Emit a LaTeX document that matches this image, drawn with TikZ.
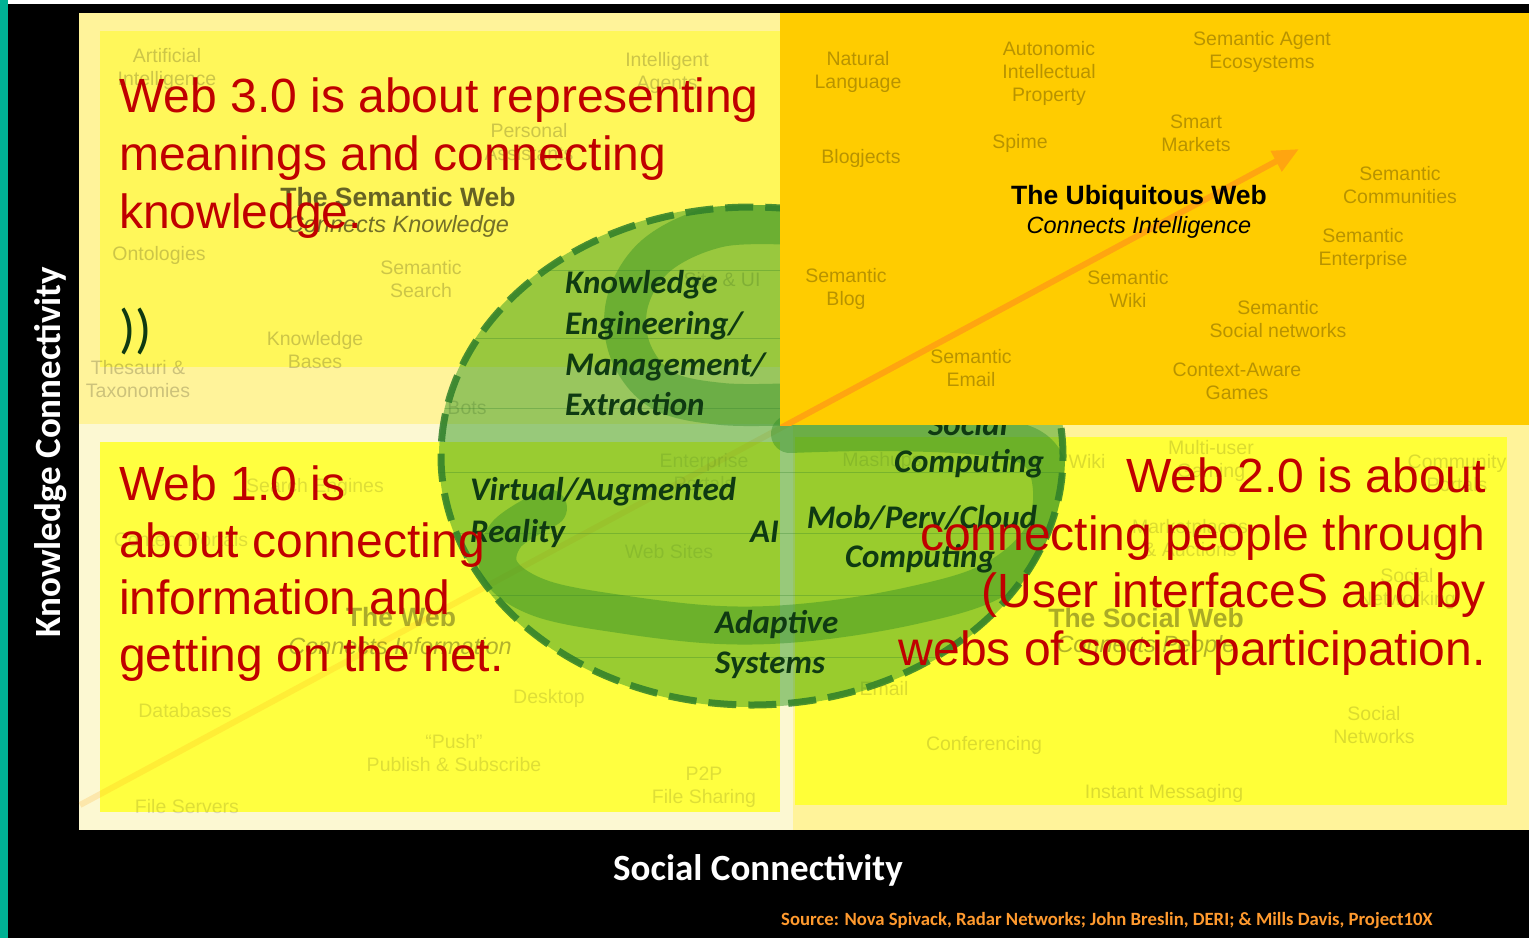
\documentclass[tikz,border=0pt]{standalone}
\usepackage{fontspec}
\setmainfont{Liberation Sans}
\newfontfamily\calibri{Carlito}
\usetikzlibrary{arrows.meta}

\definecolor{stripteal}{HTML}{00B294}
\definecolor{paleyellow}{HTML}{FFF39A}
\definecolor{semyellow}{HTML}{FFF75A}
\definecolor{creamband}{HTML}{FCF8D2}
\definecolor{infoyellow}{HTML}{FFFF40}
\definecolor{socyellow}{HTML}{FFFF38}
\definecolor{ubiqorange}{HTML}{FFCC00}
\definecolor{trendorange}{HTML}{FFA510}
\definecolor{claimred}{HTML}{C00000}
\definecolor{inkgreen}{HTML}{0F3A12}
\definecolor{discgreen}{HTML}{359B24}
\definecolor{swirlgreen}{HTML}{2A8A22}
\definecolor{dashgreen}{HTML}{2F7F2A}
\definecolor{sourceorange}{HTML}{FF9A2E}

\tikzset{
  tag/.style={font=\fontsize{19.5}{23}\selectfont, align=center, inner sep=0pt, text=black},
  qtl/.style={tag, text opacity=0.2},
  qll/.style={tag, text opacity=0.13},
  qlr/.style={tag, text opacity=0.14},
  qur/.style={tag, text opacity=0.28},
  webtitle/.style={font=\bfseries\fontsize{26.5}{26.5}\selectfont},
  websub/.style={font=\itshape\fontsize{23.5}{23.5}\selectfont},
  idea/.style={font=\calibri\bfseries\itshape\fontsize{33}{33}\selectfont, text=inkgreen, inner sep=0pt},
  claim/.style={font=\fontsize{48}{58}\selectfont, text=claimred, inner sep=0pt},
  axis/.style={font=\calibri\bfseries\fontsize{37}{37}\selectfont, text=white, inner sep=0pt},
  trend/.style={draw=trendorange, line width=6pt, -{Triangle[length=26pt,width=22pt]}},
  swirl/.style={draw=swirlgreen, opacity=0.4, line cap=round, line join=round},
}

\begin{document}
\begin{tikzpicture}[x=1pt,y=-1pt]
\useasboundingbox (0,0) rectangle (1529,938);

% frame
\fill[white] (0,0) rectangle (1529,938);
\fill[black] (8,4) rectangle (1529,938);
\fill[stripteal] (0,0) rectangle (8,938);

% quadrant panels
\fill[paleyellow] (79,13) rectangle (780,424);
\fill[semyellow] (100,31) rectangle (780,367);
\fill[creamband] (79,424) rectangle (793,830);
\fill[infoyellow] (100,442) rectangle (780,812);
\fill[paleyellow] (793,424) rectangle (1529,830);
\fill[socyellow] (795,437) rectangle (1507,805);

% trend line (faint part under the panels' content)
\coordinate (trendtail) at (80,805);
\coordinate (trendtip) at (1299,149);
\draw[trend, opacity=0.2] (trendtail) -- (trendtip);

% semantic web quadrant labels
\node[qtl] (artint) at (167,69) {Artificial\\Intelligence};
\node[qtl] (intag) at (667,73) {Intelligent\\Agents};
\node[qtl] (persass) at (529,142) {Personal\\Assistants};
\node[qtl, webtitle, text opacity=0.6] (semwebt) at (398,197) {The Semantic Web};
\node[qtl, websub, text opacity=0.55] (semwebs) at (398,226) {Connects Knowledge};
\node[qtl] (onto) at (159,255) {Ontologies};
\node[qtl] (semsearch) at (421,279) {Semantic\\Search};
\node[qtl] (kbases) at (315,350) {Knowledge\\Bases};
\node[qtl] (thes) at (138,379) {Thesauri \&\\Taxonomies};
\node[qtl] (bots) at (467,408) {Bots};
\node[qtl] (siteui) at (722,280) {Site \& UI};

% web quadrant labels
\node[qll] (search) at (315,487) {Search Engines};
\node[qll] (portals) at (181,540) {Content Portals};
\node[qll, webtitle, text opacity=0.33] (webt) at (401,617) {The Web};
\node[qll, websub, text opacity=0.3] (webs) at (400,646) {Connects Information};
\node[qll] (dbases) at (185,711) {Databases};
\node[qll] (desktop) at (549,698) {Desktop};
\node[qll] (push) at (454,753) {“Push”\\Publish \& Subscribe};
\node[qll] (ptop) at (704,787) {P2P\\File Sharing};
\node[qll] (fservers) at (187,807) {File Servers};
\node[qll] (entport) at (704,472) {Enterprise\\Portals};
\node[qll] (websites) at (669,552) {Web Sites};

% social web quadrant labels
\node[qlr] (mashups) at (882,461) {Mashups};
\node[qlr] (wiki) at (1087,461) {Wiki};
\node[qlr] (mugaming) at (1211,461) {Multi-user\\Gaming};
\node[qlr] (community) at (1457,473) {Community\\Portals};
\node[qlr] (markets) at (1190,538) {Marketplaces\\\& Auctions};
\node[qlr] (socnetg) at (1407,589) {Social\\Networking};
\node[qlr, webtitle, text opacity=0.33] (socwebt) at (1146,618) {The Social Web};
\node[qlr, websub, text opacity=0.3] (socwebs) at (1146,646) {Connects People};
\node[qlr] (email) at (884,689) {Email};
\node[qlr] (conf) at (984,745) {Conferencing};
\node[qlr] (socnets) at (1374,725) {Social\\Networks};
\node[qlr] (instmsg) at (1164,793) {Instant Messaging};

% the green disc with its swirl
\coordinate (hub) at (752,456);
\begin{scope}
  \clip (hub) ellipse [x radius=313pt, y radius=251pt];
  \fill[discgreen, opacity=0.5] (430,190) rectangle (1080,720);
  \draw[swirl, line width=42pt] plot[smooth, tension=0.6] coordinates
    {(795,224) (720,226) (658,254) (628,300) (630,350) (662,390) (722,404) (795,404)};
  \draw[swirl, line width=38pt] plot[smooth, tension=0.6] coordinates
    {(548,508) (506,535) (500,570) (540,598) (620,614) (720,625) (810,622)
     (910,606) (990,582) (1040,540) (1052,490) (1035,450) (980,436) (880,432) (790,434)};
  \foreach \yy in {270,338,408,472,533,595,657}
    \draw[dashgreen, opacity=0.3, line width=0.8pt] (430,\yy) -- (1080,\yy);
\end{scope}
\draw[dashgreen, opacity=0.85, line width=7pt, dash pattern=on 28pt off 12pt]
  (hub) ellipse [x radius=311pt, y radius=249pt];

% disc topics
\node[idea, anchor=base west] (kea) at (565,293) {Knowledge};
\node[idea, anchor=base west] (keb) at (565,334) {Engineering/};
\node[idea, anchor=base west] (kec) at (565,375) {Management/};
\node[idea, anchor=base west] (ked) at (565,415) {Extraction};
\node[idea, anchor=base west] (vra) at (470,500) {Virtual/Augmented};
\node[idea, anchor=base west] (vrb) at (470,542) {Reality};
\node[idea, anchor=base west] (aitopic) at (750,542) {AI};
\node[idea, anchor=base] (sca) at (968,435) {Social};
\node[idea, anchor=base] (scb) at (969,472) {Computing};
\node[idea, anchor=base] (mpa) at (922,528) {Mob/Perv/Cloud};
\node[idea, anchor=base] (mpb) at (920,567) {Computing};
\node[idea, anchor=base west] (asa) at (715,633) {Adaptive};
\node[idea, anchor=base west] (asb) at (715,673) {Systems};

% ubiquitous web quadrant
\fill[ubiqorange] (780,13) rectangle (1529,425);
\begin{scope}
  \clip (780,13) rectangle (1529,425);
  \draw[trend] (trendtail) -- (trendtip);
\end{scope}

\node[qur] (natlang) at (858,72) {Natural\\Language};
\node[qur] (autoip) at (1049,73) {Autonomic\\Intellectual\\Property};
\node[qur] (agenteco) at (1262,52) {Semantic Agent\\Ecosystems};
\node[qur] (smartm) at (1196,133) {Smart\\Markets};
\node[qur] (spime) at (1020,143) {Spime};
\node[qur] (blogjects) at (861,158) {Blogjects};
\node[qur] (semcomm) at (1400,185) {Semantic\\Communities};
\node[tag, webtitle] (ubiqt) at (1139,198) {The Ubiquitous Web};
\node[tag, websub] (ubiqs) at (1139,227) {Connects Intelligence};
\node[qur] (sement) at (1363,249) {Semantic\\Enterprise};
\node[qur] (semblog) at (846,289) {Semantic\\Blog};
\node[qur] (semwiki) at (1128,289) {Semantic\\Wiki};
\node[qur] (semsoc) at (1278,319) {Semantic\\Social networks};
\node[qur] (sememail) at (971,368) {Semantic\\Email};
\node[qur] (ctxgames) at (1237,381) {Context-Aware\\Games};

\node[font=\calibri\fontsize{54}{54}\selectfont, text=inkgreen, inner sep=0pt, anchor=west] (parens) at (119,331) {))};

% statements
\node[claim, anchor=base west] (wtha) at (119,112) {Web 3.0 is about representing};
\node[claim, anchor=base west] (wthb) at (119,170) {meanings and connecting};
\node[claim, anchor=base west] (wthc) at (119,228) {knowledge.};
\node[claim, anchor=base west] (wona) at (119,500) {Web 1.0 is};
\node[claim, anchor=base west] (wonb) at (119,557) {about connecting};
\node[claim, anchor=base west] (wonc) at (119,614) {information and};
\node[claim, anchor=base west] (wond) at (119,671) {getting on the net.};
\node[claim, anchor=base east] (wtwa) at (1486,492) {Web 2.0 is about};
\node[claim, anchor=base east] (wtwb) at (1486,550) {connecting people through};
\node[claim, anchor=base east] (wtwc) at (1486,607) {(User interfaceS and by};
\node[claim, anchor=base east] (wtwd) at (1486,665) {webs of social participation.};

% axes and credit
\node[axis, rotate=90, anchor=base] (kconn) at (60,452) {Knowledge Connectivity};
\node[axis, anchor=base] (sconn) at (758,880) {Social Connectivity};
\node[font=\calibri\bfseries\fontsize{18.7}{18.7}\selectfont, text=sourceorange, inner sep=0pt, anchor=base west] (credit) at (781,925)
  {Source: Nova Spivack, Radar Networks; John Breslin, DERI; \& Mills Davis, Project10X};
\end{tikzpicture}
\end{document}
